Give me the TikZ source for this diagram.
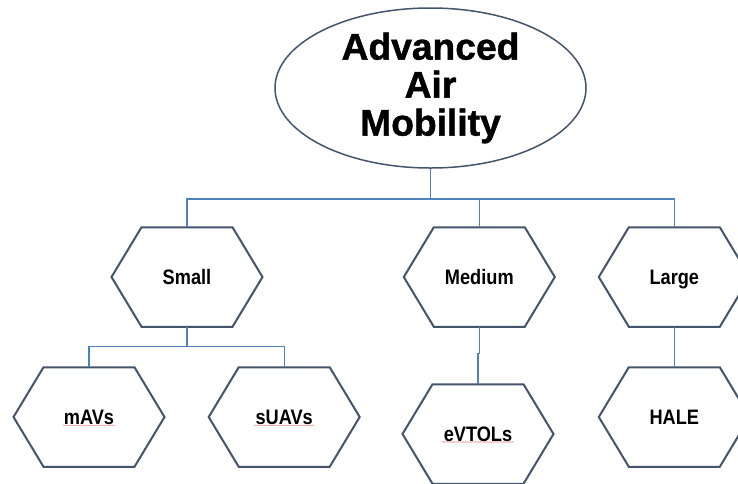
\documentclass[tikz,border=0pt]{standalone}
\usepackage{graphicx}
\usepackage{fontspec}
\setmainfont{Liberation Sans}
\newfontfamily\titlefont[FakeBold=1.2]{Liberation Sans Bold}
\usetikzlibrary{shapes.geometric,decorations.pathmorphing}
\definecolor{hexcol}{HTML}{44546A}
\definecolor{conncol}{HTML}{4F81BD}
\definecolor{squig}{HTML}{F2A0A0}
\newcommand{\hexlabel}[1]{\scalebox{1}[1.15]{#1}}
\begin{document}
\begin{tikzpicture}[x=1pt,y=-1pt,
  hexbox/.style={minimum width=151pt, minimum height=99.5pt, inner sep=0pt, outer sep=0pt,
    font=\fontsize{18.2}{20}\selectfont\bfseries, text height=14.5pt, text depth=0pt},
  hexline/.style={draw=hexcol, line width=2pt, line join=miter},
  conn/.style={draw=conncol, line width=1.1pt},
  squiggle/.style={draw=squig, line width=0.6pt, decorate,
    decoration={snake, amplitude=0.5pt, segment length=2.5pt}},
  title/.style={ellipse, draw=hexcol, line width=1.5pt, minimum width=311pt, minimum height=160pt,
    inner sep=0pt, align=center, font=\fontsize{37.2}{38}\selectfont\titlefont}]
\useasboundingbox (0,0) rectangle (738,483);
\fill[white] (0,0) rectangle (738,483);

\node[title] (aam) at (430.5,88) {Advanced\\Air\\Mobility};

\node[hexbox] (small)  at (187,277) {\hexlabel{Small}};
\node[hexbox] (medium) at (479.3,277) {\hexlabel{Medium}};
\node[hexbox] (large)  at (674.3,277) {\hexlabel{Large}};
\node[hexbox] (mavs)   at (89,417) {\hexlabel{mAVs}};
\node[hexbox] (suavs)  at (284.2,417) {\hexlabel{sUAVs}};
\node[hexbox] (evtols) at (478,434) {\hexlabel{eVTOLs}};
\node[hexbox] (hale)   at (674.3,417) {\hexlabel{HALE}};

\foreach \n in {small,medium,large,mavs,suavs,evtols,hale}{
  \draw[hexline] (\n.west) -- ([xshift=30pt]\n.north west) -- ([xshift=-30pt]\n.north east)
    -- (\n.east) -- ([xshift=-30pt]\n.south east) -- ([xshift=30pt]\n.south west) -- cycle;
}

\coordinate (j1) at (430.5,199);
\coordinate (j2) at (187,346.7);
\draw[conn] (aam.south) -- (j1);
\draw[conn] (j1) -| (small.north);
\draw[conn] (j1) -| (medium.north);
\draw[conn] (j1) -| (large.north);
\draw[conn] (small.south) -- (j2);
\draw[conn] (j2) -| (mavs.north);
\draw[conn] (j2) -| (suavs.north);
\draw[conn] (medium.south) -- ++(0,27) -| (evtols.north);
\draw[conn] (large.south) -- (hale.north);

\draw[squiggle] ([xshift=-26pt,yshift=-8.5pt]mavs.center) -- ([xshift=26pt,yshift=-8.5pt]mavs.center);
\draw[squiggle] ([xshift=-30pt,yshift=-8.5pt]suavs.center) -- ([xshift=30pt,yshift=-8.5pt]suavs.center);
\draw[squiggle] ([xshift=-36pt,yshift=-8pt]evtols.center) -- ([xshift=36pt,yshift=-8pt]evtols.center);
\end{tikzpicture}
\end{document}
